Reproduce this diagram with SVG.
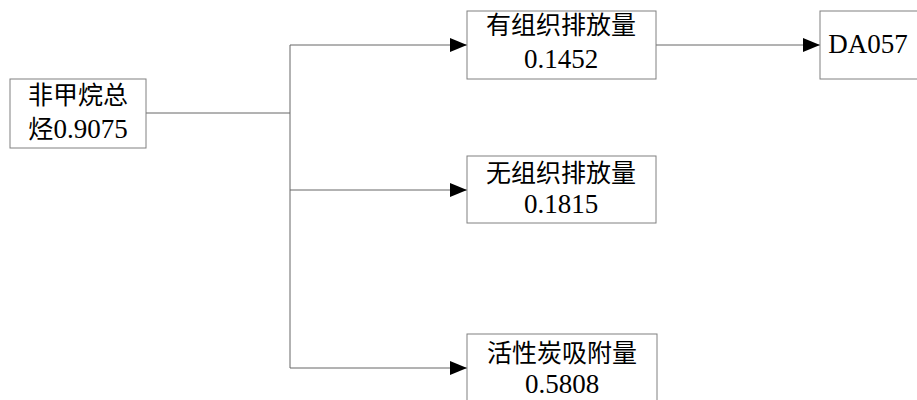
<svg xmlns="http://www.w3.org/2000/svg" width="917" height="400" viewBox="0 0 917 400">
<style>
.box{fill:#fff;stroke:#808080;stroke-width:1}
.t{font-family:"Liberation Serif","Noto Sans CJK SC",serif;font-size:25px;fill:#000;text-anchor:middle}
.d{font-size:27px}
.c{fill:none;stroke:#666;stroke-width:1}
</style>
<defs>
<marker id="ah" markerWidth="17" markerHeight="14" refX="17" refY="7" orient="auto" markerUnits="userSpaceOnUse">
<path d="M0,0 L17,7 L0,14 Z" fill="#000"/>
</marker>
</defs>
<rect width="917" height="400" fill="#fff"/>
<g id="connectors">
<path class="c" d="M146,113 H290"/>
<path class="c" d="M290,45 V368"/>
<path class="c" d="M290,45 H467" marker-end="url(#ah)"/>
<path class="c" d="M290,190 H467" marker-end="url(#ah)"/>
<path class="c" d="M290,368 H467" marker-end="url(#ah)"/>
<path class="c" d="M656,45 H820" marker-end="url(#ah)"/>
</g>
<g id="n1">
<rect class="box" x="10" y="79" width="136" height="69"/>
<text class="t" x="78" y="104">非甲烷总</text>
<text class="t" x="78" y="138">烃<tspan class="d">0.9075</tspan></text>
</g>
<g id="n2">
<rect class="box" x="467" y="11" width="189" height="68"/>
<text class="t" x="561" y="34">有组织排放量</text>
<text class="t d" x="561" y="68">0.1452</text>
</g>
<g id="n3">
<rect class="box" x="467" y="156" width="189" height="67"/>
<text class="t" x="561" y="182">无组织排放量</text>
<text class="t d" x="561" y="213">0.1815</text>
</g>
<g id="n4">
<rect class="box" x="467" y="334" width="190" height="80"/>
<text class="t" x="562" y="362">活性炭吸附量</text>
<text class="t d" x="562" y="393">0.5808</text>
</g>
<g id="n5">
<rect class="box" x="820" y="11" width="110" height="68"/>
<text class="t d" x="868" y="53">DA057</text>
</g>
</svg>
